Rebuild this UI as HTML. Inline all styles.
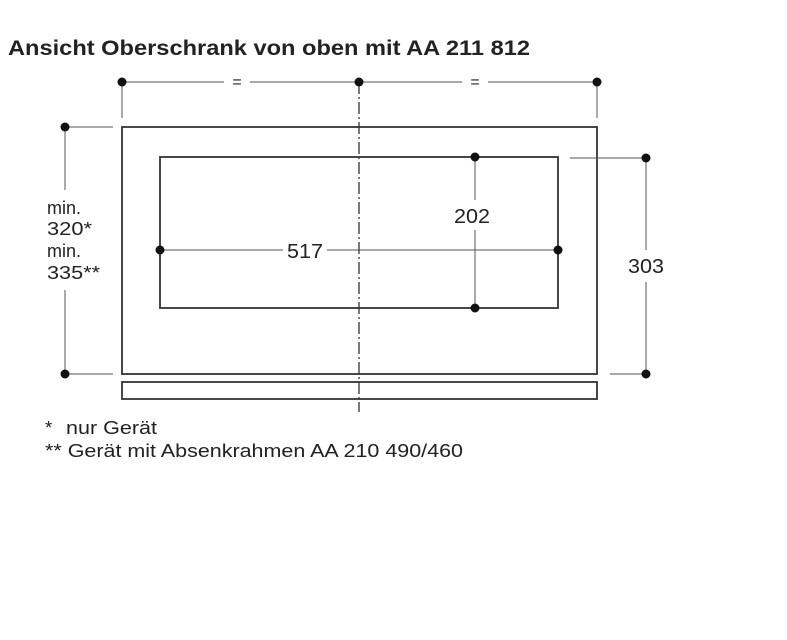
<!DOCTYPE html>
<html><head><meta charset="utf-8"><style>
body{margin:0;background:#fff;width:787px;height:640px;overflow:hidden}
svg{display:block}
text{font-family:"Liberation Sans",sans-serif;fill:#222}
</style></head><body>
<svg width="787" height="640" viewBox="0 0 787 640">
<text x="8" y="55" font-size="21" font-weight="bold" fill="#111" textLength="522" lengthAdjust="spacingAndGlyphs">Ansicht Oberschrank von oben mit AA 211 812</text>
<g stroke="#333" stroke-width="1.8" fill="none">
<rect x="122" y="127" width="475" height="247"/>
<rect x="160" y="157" width="398" height="151"/>
<rect x="122" y="382" width="475" height="17"/>
</g>
<g stroke="#555" stroke-width="1" fill="none">
<line x1="122" y1="82" x2="224" y2="82"/><line x1="250" y1="82" x2="462" y2="82"/><line x1="488" y1="82" x2="597" y2="82"/>
<line x1="122" y1="82" x2="122" y2="118"/><line x1="597" y1="82" x2="597" y2="118"/>
<line x1="65" y1="127" x2="113" y2="127"/><line x1="65" y1="374" x2="113" y2="374"/>
<line x1="65" y1="127" x2="65" y2="190"/><line x1="65" y1="290" x2="65" y2="374"/>
<line x1="570" y1="158" x2="646" y2="158"/><line x1="610" y1="374" x2="646" y2="374"/>
<line x1="646" y1="158" x2="646" y2="250"/><line x1="646" y1="282" x2="646" y2="374"/>
<line x1="160" y1="250" x2="283" y2="250"/><line x1="327" y1="250" x2="558" y2="250"/>
<line x1="475" y1="157" x2="475" y2="200"/><line x1="475" y1="230" x2="475" y2="308"/>
<line x1="359" y1="82" x2="359" y2="412" stroke="#333" stroke-width="1.3" stroke-dasharray="12,3,2,3"/>
</g>
<g fill="#111">
<circle cx="122" cy="82" r="4.5"/><circle cx="359" cy="82" r="4.5"/><circle cx="597" cy="82" r="4.5"/>
<circle cx="65" cy="127" r="4.5"/><circle cx="65" cy="374" r="4.5"/>
<circle cx="646" cy="158" r="4.5"/><circle cx="646" cy="374" r="4.5"/>
<circle cx="160" cy="250" r="4.5"/><circle cx="558" cy="250" r="4.5"/>
<circle cx="475" cy="157" r="4.5"/><circle cx="475" cy="308" r="4.5"/>
</g>
<text x="237" y="87" font-size="16" text-anchor="middle">=</text>
<text x="475" y="87" font-size="16" text-anchor="middle">=</text>
<text x="287" y="258" font-size="20" textLength="36" lengthAdjust="spacingAndGlyphs">517</text>
<text x="454" y="223" font-size="20" textLength="36" lengthAdjust="spacingAndGlyphs">202</text>
<text x="628" y="273" font-size="20" textLength="36" lengthAdjust="spacingAndGlyphs">303</text>
<text x="47" y="214" font-size="18">min.</text>
<text x="47" y="235" font-size="18.5" textLength="45" lengthAdjust="spacingAndGlyphs">320*</text>
<text x="47" y="257" font-size="18">min.</text>
<text x="47" y="279" font-size="18.5" textLength="53" lengthAdjust="spacingAndGlyphs">335**</text>
<text x="45" y="434" font-size="18.5"><tspan>*</tspan><tspan x="66" textLength="91" lengthAdjust="spacingAndGlyphs">nur Gerät</tspan></text>
<text x="45" y="457" font-size="18.5" textLength="418" lengthAdjust="spacingAndGlyphs">** Gerät mit Absenkrahmen AA 210 490/460</text>
</svg>
</body></html>
